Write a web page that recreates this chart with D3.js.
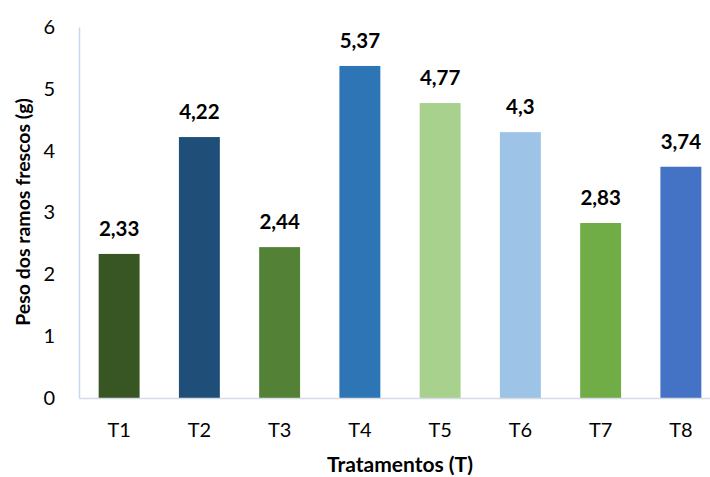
<!DOCTYPE html>
<html>
<head>
<meta charset="utf-8">
<script src="https://cdn.jsdelivr.net/npm/d3@7"></script>
<style>
  html, body { margin: 0; padding: 0; background: #fff; }
  svg { display: block; font-family: Lato, "Open Sans", sans-serif; }
</style>
</head>
<body>
<svg id="chart" width="710" height="477"></svg>
<script>
// Fresh branch weight per treatment
const treatments = ["T1", "T2", "T3", "T4", "T5", "T6", "T7", "T8"];
const weights = [2.33, 4.22, 2.44, 5.37, 4.77, 4.3, 2.83, 3.74];
const valueLabels = ["2,33", "4,22", "2,44", "5,37", "4,77", "4,3", "2,83", "3,74"];
const barColors = ["#375623", "#1F4E79", "#538135", "#2E75B6", "#A9D18E", "#9DC3E6", "#70AD47", "#4472C4"];
const yTicks = [0, 1, 2, 3, 4, 5, 6];

const svg = d3.select("#chart");
const plotLeft = 79, plotRight = 721, plotTop = 27, plotBottom = 398;

const x = d3.scaleBand().domain(treatments).range([plotLeft, plotRight]).paddingInner(0.49).paddingOuter(0.245);
const y = d3.scaleLinear().domain([0, 6]).range([plotBottom, plotTop]);

// bars
svg.append("g").selectAll("rect")
  .data(treatments)
  .join("rect")
  .attr("x", d => x(d))
  .attr("width", x.bandwidth())
  .attr("y", (d, i) => y(weights[i]))
  .attr("height", (d, i) => y(0) - y(weights[i]))
  .attr("fill", (d, i) => barColors[i]);

// value labels
svg.append("g").selectAll("text")
  .data(treatments)
  .join("text")
  .attr("x", d => x(d) + x.bandwidth() / 2)
  .attr("y", (d, i) => y(weights[i]) - 18)
  .attr("text-anchor", "middle")
  .attr("font-size", 20.5)
  .attr("font-weight", "bold")
  .attr("fill", "#000")
  .text((d, i) => valueLabels[i]);

// y axis
const yAxis = svg.append("g")
  .attr("transform", `translate(${plotLeft},0)`)
  .call(d3.axisLeft(y).tickValues(yTicks).tickSize(0).tickPadding(24).tickFormat(d3.format("d")));
yAxis.select(".domain").attr("stroke", "#C5D9F1").attr("stroke-width", 1.5);
yAxis.selectAll("text").attr("font-size", 20).attr("fill", "#000").attr("font-family", "Lato, 'Open Sans', sans-serif");

// x axis
const xAxis = svg.append("g")
  .attr("transform", `translate(0,${plotBottom})`)
  .call(d3.axisBottom(x).tickSize(0).tickPadding(24.5));
xAxis.select(".domain").attr("stroke", "#D6DCE5").attr("stroke-width", 1.5);
xAxis.selectAll("text").attr("font-size", 20).attr("fill", "#000").attr("font-family", "Lato, 'Open Sans', sans-serif");

// axis titles
svg.append("text")
  .attr("x", 400).attr("y", 472)
  .attr("text-anchor", "middle")
  .attr("font-size", 21).attr("font-weight", "bold")
  .text("Tratamentos (T)");

svg.append("text")
  .attr("transform", "translate(30,212) rotate(-90)")
  .attr("text-anchor", "middle")
  .attr("font-size", 19.5).attr("font-weight", "bold")
  .text("Peso dos ramos frescos (g)");
</script>
</body>
</html>
